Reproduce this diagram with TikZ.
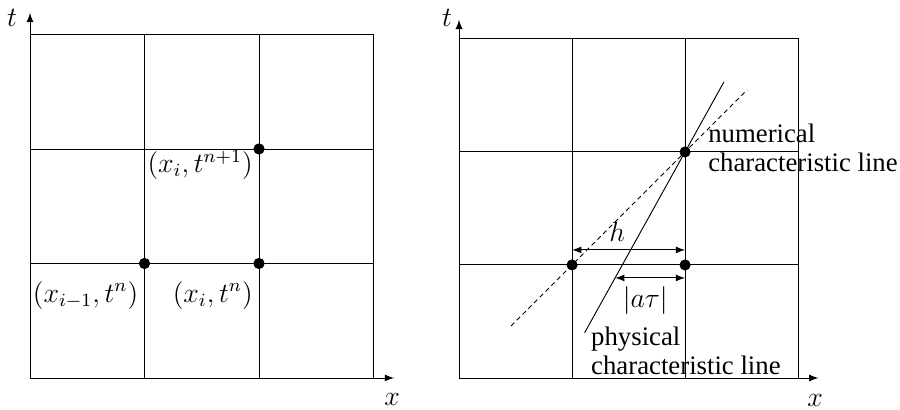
\documentclass[tikz,border=0pt]{standalone}
\usepackage{fontspec}
\setmainfont{Liberation Serif}
\usetikzlibrary{positioning}
\begin{document}
\begin{tikzpicture}[x=1.73cm,y=1.73cm,>=latex,
  every node/.style={font=\fontsize{11.5}{12.5}\selectfont},
  ptlabel/.style={inner sep=0pt}]
\useasboundingbox (-0.262,-0.271) rectangle (7.598,3.301);
% left: grid points
\draw[->] (0,0) -- (3.18,0);
\draw[->] (0,0) -- (0,3.19);
\node (tL) at (-0.157,3.144) {$t$};
\node (xL) at (3.162,-0.192) {$x$};
\draw (0,0) rectangle (3,3);
\foreach \k in {1,2} {
\draw (\k,0) -- (\k,3);
\draw (0,\k) -- (3,\k);
}
\filldraw (1,1) circle (2.2pt) node[ptlabel,below left=7.4pt and 2.5pt] (pim) {$(x_{i-1},t^n)$};
\filldraw (2,1) circle (2.2pt) node[ptlabel,below left=7.4pt and 2.5pt] (pin) {$(x_i,t^n)$};
\filldraw (2,2) circle (2.2pt) node[ptlabel,below left=0.5pt and 2.5pt] (pinp) {$(x_i,t^{n+1})$};
% right: characteristic lines
\begin{scope}[shift={(3.747,0)},scale=0.987]
\draw[->] (0,0) -- (3.18,0);
\draw[->] (0,0) -- (0,3.17);
\node (tR) at (-0.106,3.186) {$t$};
\node (xR) at (3.15,-0.195) {$x$};
\draw (0,0) rectangle (3,3);
\foreach \k in {1,2} {
\draw (\k,0) -- (\k,3);
\draw (0,\k) -- (3,\k);
}
\draw[dash pattern=on 2pt off 1.5pt] (0.46,0.46) -- (2.55,2.55);
\draw (1.111,0.4) -- (2.344,2.62);
\draw[<->] (1,1.133) -- node[above,pos=0.4] (h) {$h$} (2,1.133);
\draw[<->] (1.381,0.885) -- node[below,pos=0.43] (atau) {$|a\tau|$} (2,0.885);
\filldraw (1,1) circle (2.2pt);
\filldraw (2,1) circle (2.2pt);
\filldraw (2,2) circle (2.2pt);
\node[align=left,anchor=west] (num) at (2.133,2.04) {numerical\\characteristic line};
\node[align=left,anchor=west] (phys) at (1.097,0.239) {physical\\characteristic line};
\end{scope}
\end{tikzpicture}
\end{document}
